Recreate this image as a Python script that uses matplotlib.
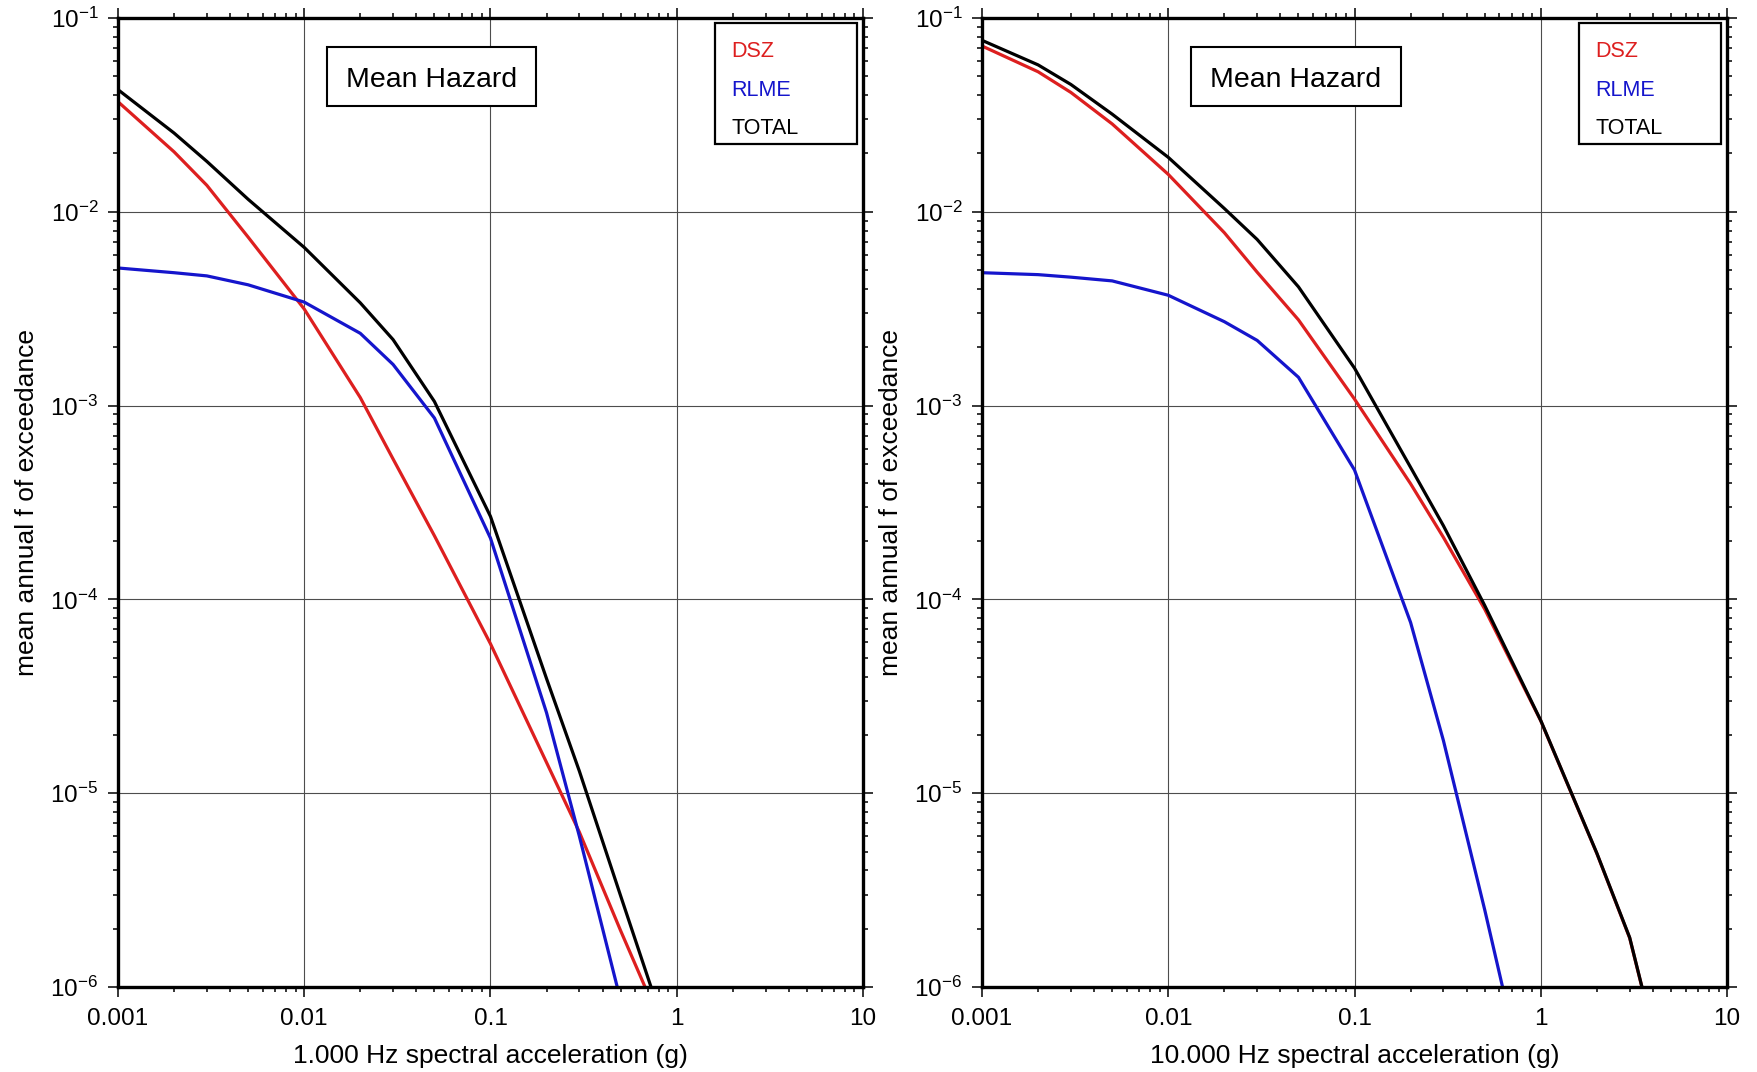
import matplotlib
matplotlib.use("Agg")
import matplotlib.pyplot as plt
from matplotlib.patches import Rectangle
from matplotlib.ticker import LogLocator, FixedLocator, FixedFormatter, LogFormatterMathtext, NullFormatter

plt.rcParams["font.family"] = ["Liberation Sans", "DejaVu Sans"]
plt.rcParams["mathtext.default"] = "regular"

# spectral acceleration levels (g)
accel = [0.001, 0.002, 0.003, 0.005, 0.01, 0.02, 0.03, 0.05, 0.1, 0.2, 0.3, 0.5, 1.0, 2.0, 3.0, 5.0]

# 1.000 Hz
dsz_1hz = [0.037, 0.0204, 0.0137, 0.0074, 0.00315, 0.0011, 0.00053, 0.000213, 5.9e-5, 1.44e-5,
           6.3e-6, 1.95e-6, 4.2e-7, 4e-8, 1e-8, 2e-9]
rlme_1hz = [0.00513, 0.00485, 0.00467, 0.0042, 0.00342, 0.00236, 0.00163, 0.000863, 0.000207, 2.6e-5,
            6.0e-6, 8.5e-7, 1e-8, 1e-10, 1e-11, 1e-12]
total_1hz = [0.0427, 0.0255, 0.0182, 0.0116, 0.00655, 0.00339, 0.00219, 0.00105, 0.000268, 3.9e-5,
             1.3e-5, 2.95e-6, 4.0e-7, 4e-8, 1e-8, 2e-9]

# 10.000 Hz
dsz_10hz = [0.0717, 0.0528, 0.0413, 0.0284, 0.0156, 0.0078, 0.00488, 0.00277, 0.00108, 0.000395,
            0.000209, 8.9e-5, 2.36e-5, 4.88e-6, 1.79e-6, 2.49e-7]
rlme_10hz = [0.00485, 0.00474, 0.0046, 0.0044, 0.00371, 0.00271, 0.00217, 0.0014, 0.000465, 7.6e-5,
             1.87e-5, 2.5e-6, 1.4e-7, 1e-9, 1e-10, 1e-11]
total_10hz = [0.0767, 0.0573, 0.0454, 0.0319, 0.0191, 0.0104, 0.0072, 0.0041, 0.00156, 0.00048,
              0.00024, 9.3e-5, 2.37e-5, 4.9e-6, 1.8e-6, 2.5e-7]

xticks = [0.001, 0.01, 0.1, 1, 10]
xticklabels = ["0.001", "0.01", "0.1", "1", "10"]
series_names = ["DSZ", "RLME", "TOTAL"]
series_colors = ["#dd1f1f", "#1515cc", "black"]


def draw_panel(ax, curves, xlabel):
    for vals, col in zip(curves, series_colors):
        ax.plot(accel, vals, color=col, lw=2.3, solid_joinstyle="round", zorder=3)

    ax.set_xscale("log")
    ax.set_yscale("log")
    ax.set_xlim(0.001, 10)
    ax.set_ylim(1e-6, 1e-1)

    ax.xaxis.set_major_locator(FixedLocator(xticks))
    ax.xaxis.set_major_formatter(FixedFormatter(xticklabels))
    ax.xaxis.set_minor_locator(LogLocator(base=10, subs=range(2, 10), numticks=20))
    ax.xaxis.set_minor_formatter(NullFormatter())
    ax.yaxis.set_major_locator(LogLocator(base=10, numticks=10))
    ax.yaxis.set_major_formatter(LogFormatterMathtext())
    ax.yaxis.set_minor_locator(LogLocator(base=10, subs=range(2, 10), numticks=20))
    ax.yaxis.set_minor_formatter(NullFormatter())

    ax.tick_params(which="both", direction="out", top=True, right=True, width=1.1, colors="black")
    ax.tick_params(which="major", length=7.2, labelsize=17.5, pad=7)
    ax.tick_params(axis="x", which="major", pad=8)
    ax.tick_params(which="minor", length=3.6)

    ax.grid(True, which="major", color="0.3", lw=0.8, zorder=1)
    for s in ax.spines.values():
        s.set_linewidth(2.4)
        s.set_zorder(4)

    ax.set_xlabel(xlabel, fontsize=19, labelpad=10)
    ax.set_ylabel("mean annual f of exceedance", fontsize=19, labelpad=8)

    # "Mean Hazard" box
    ax.add_patch(Rectangle((0.2805, 0.9092), 0.2812, 0.0606, transform=ax.transAxes,
                           fill=True, facecolor="white", edgecolor="black", lw=1.5, zorder=5))
    ax.text(0.4211, 0.9291, "Mean Hazard", transform=ax.transAxes, ha="center", va="baseline",
            fontsize=20.5, zorder=6)

    # legend box with coloured names
    ax.add_patch(Rectangle((0.8013, 0.870), 0.1906, 0.1252, transform=ax.transAxes,
                           fill=True, facecolor="white", edgecolor="black", lw=1.6, zorder=5))
    for name, col, yy in zip(series_names, series_colors, [0.9598, 0.9195, 0.8799]):
        ax.text(0.8237, yy, name, transform=ax.transAxes, color=col, ha="left", va="baseline",
                fontsize=15.5, zorder=6)


fig = plt.figure(figsize=(17.58, 10.72), dpi=100)
ax1 = fig.add_axes([0.0671, 0.0793, 0.4238, 0.9039])
ax2 = fig.add_axes([0.5586, 0.0793, 0.4238, 0.9039])

draw_panel(ax1, [dsz_1hz, rlme_1hz, total_1hz], "1.000 Hz spectral acceleration (g)")
draw_panel(ax2, [dsz_10hz, rlme_10hz, total_10hz], "10.000 Hz spectral acceleration (g)")

fig.savefig("out.png", dpi=100, facecolor="white")
